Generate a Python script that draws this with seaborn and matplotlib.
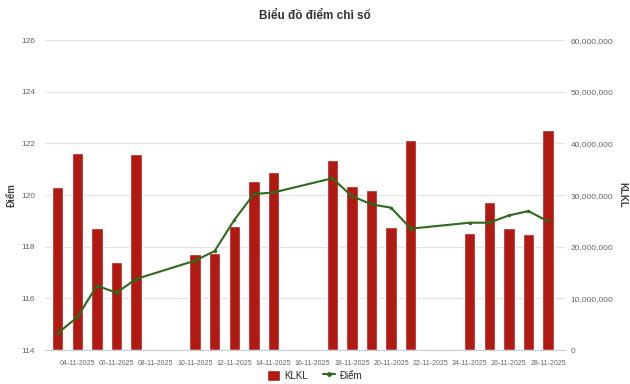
import matplotlib
matplotlib.use("Agg")
import matplotlib.pyplot as plt
import matplotlib.dates as mdates
import matplotlib.font_manager as fm
from matplotlib.patches import Patch
from matplotlib.lines import Line2D
import seaborn as sns
import pandas as pd

# trading days in Nov 2025
dates = ["2025-11-03", "2025-11-04", "2025-11-05", "2025-11-06", "2025-11-07",
         "2025-11-10", "2025-11-11", "2025-11-12", "2025-11-13", "2025-11-14",
         "2025-11-17", "2025-11-18", "2025-11-19", "2025-11-20", "2025-11-21",
         "2025-11-24", "2025-11-25", "2025-11-26", "2025-11-27", "2025-11-28"]
klkl = [31.6e6, 38.2e6, 23.7e6, 17.0e6, 38.0e6,
        18.6e6, 18.7e6, 24.0e6, 32.8e6, 34.5e6,
        36.8e6, 31.7e6, 30.9e6, 23.9e6, 40.6e6,
        22.7e6, 28.6e6, 23.7e6, 22.4e6, 42.6e6]
diem = [114.65, 115.27, 116.49, 116.22, 116.75,
        117.46, 117.83, 119.03, 120.04, 120.10,
        120.65, 119.96, 119.64, 119.51, 118.70,
        118.93, 118.93, 119.21, 119.38, 118.98]

bar_color = "#b01a12"
line_color = "#2d6a1e"
txt_color = "#666666"

df = pd.DataFrame({"date": pd.to_datetime(dates), "KLKL": klkl, "Điểm": diem})
df["x"] = mdates.date2num(df["date"])

sns.set_style("white")

# pick a narrow font if there is one
names = {f.name for f in fm.fontManager.ttflist}
fam = "Liberation Sans Narrow" if "Liberation Sans Narrow" in names else "Liberation Sans"
plt.rcParams["font.family"] = [fam, "DejaVu Sans"]

fig = plt.figure(figsize=(6.3, 3.84), dpi=100)
ax = fig.add_axes([0.071, 0.0885, 0.826, 0.807])

# bars on the main axes
sns.barplot(data=df, x="x", y="KLKL", native_scale=True, color=bar_color,
            saturation=1, width=0.58, ax=ax)
ax.set_ylim(0, 60e6)
ax.set_yticks(range(0, 60000001, 10000000))
ax.yaxis.set_major_formatter(matplotlib.ticker.FuncFormatter(lambda v, p: f"{int(v):,}"))
ax.grid(axis="y", color="#e3e3e3", linewidth=0.9)
ax.set_axisbelow(True)

# line on the twin axes
ax2 = ax.twinx()
sns.lineplot(data=df, x="x", y="Điểm", color=line_color, linewidth=1.5,
             marker="o", markersize=2.5, markeredgewidth=0, ax=ax2)
ax2.set_ylim(114, 126)
ax2.set_yticks(range(114, 127, 2))

# swap sides: bars scale on the right, points scale on the left
ax.yaxis.tick_right()
ax.yaxis.set_label_position("right")
ax2.yaxis.tick_left()
ax2.yaxis.set_label_position("left")
ax.set_ylabel("KLKL", rotation=270, labelpad=10, fontsize=7, fontweight="bold", color="#444444")
ax2.set_ylabel("Điểm", fontsize=7, fontweight="bold", color="#444444", labelpad=3)

x0 = mdates.date2num(pd.Timestamp("2025-11-03")) - 0.66
x1 = mdates.date2num(pd.Timestamp("2025-11-28")) + 0.87
ax.set_xlim(x0, x1)
ticks = mdates.date2num(pd.date_range("2025-11-04", "2025-11-28", freq="2D"))
ax.set_xticks(ticks)
ax.xaxis.set_major_formatter(mdates.DateFormatter("%d-%m-%Y"))
ax.set_xlabel("")

for a in (ax, ax2):
    for s in ("top", "left", "right", "bottom"):
        a.spines[s].set_visible(False)
    a.tick_params(axis="y", length=0, labelsize=6, labelcolor=txt_color, pad=7)
ax.tick_params(axis="y", pad=4)
ax.spines["bottom"].set_visible(True)
ax.spines["bottom"].set_color("#c8d0de")
ax.tick_params(axis="x", length=5, color="#c8d0de", labelsize=5, labelcolor=txt_color, pad=2)

fig.suptitle("Biểu đồ điểm chỉ số", y=0.975, fontsize=8.5, fontweight="bold", color="#333333")

handles = [Patch(facecolor=bar_color, label="KLKL"),
           Line2D([0], [0], color=line_color, marker="o", markersize=2.5, lw=1.5, label="Điểm")]
fig.legend(handles=handles, loc="lower center", ncol=2, frameon=False,
           bbox_to_anchor=(0.5, -0.015), fontsize=7, handlelength=1.3,
           handleheight=1.4, columnspacing=1.5, handletextpad=0.5)

fig.savefig("out.png", dpi=100)
